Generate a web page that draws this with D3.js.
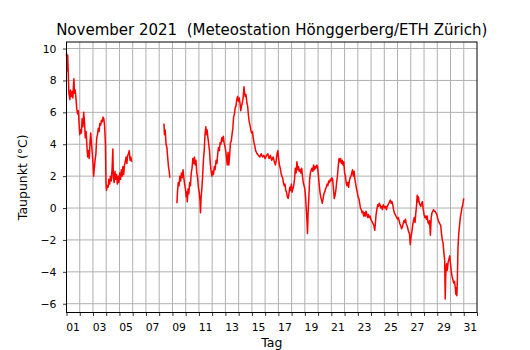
<!DOCTYPE html>
<html lang="en">
<head>
<meta charset="utf-8">
<title>Taupunkt November 2021</title>
<script src="https://d3js.org/d3.v7.min.js"></script>
<style>
body { margin: 0; background: #fff; }
text { font-family: "DejaVu Sans", sans-serif; fill: #000; }
.grid line { stroke: #b0b0b0; stroke-width: 1; }
.tick-label { font-size: 10.8px; }
</style>
</head>
<body>
<div id="chart"></div>
<script>
// time in days since 1 Nov 2021 00:00, null = no data
var tage = [
  0.00,0.03,0.06,0.09,0.12,0.18,0.25,0.30,0.36,0.42,0.48,0.52,0.56,0.60,0.66,0.72,0.78,0.84,0.90,0.95,
  1.00,1.06,1.12,1.18,1.24,1.30,1.36,1.42,1.48,1.54,1.60,1.66,1.72,1.78,1.83,1.88,1.94,
  2.00,2.05,2.10,2.16,2.22,2.28,2.34,2.40,2.46,2.52,2.58,2.64,2.70,2.76,2.82,2.88,2.94,2.98,
  3.02,3.08,3.14,3.20,3.26,3.32,3.38,3.44,3.50,3.54,3.60,3.66,3.72,3.78,3.84,3.90,3.96,
  4.02,4.08,4.14,4.20,4.26,4.32,4.38,4.44,4.50,4.56,4.62,4.68,4.74,4.80,4.86,4.92,
  5.00,
  7.36,7.40,7.45,7.52,7.58,7.64,7.70,7.76,7.80,
  8.00,
  8.34,8.38,8.44,8.50,8.56,8.62,8.68,8.74,8.80,8.86,8.92,8.98,
  9.04,9.08,9.12,9.18,9.24,9.30,9.36,9.42,9.48,9.54,9.60,9.66,9.72,9.78,9.84,9.90,9.96,
  10.02,10.08,10.12,10.16,10.22,10.28,10.34,10.40,10.46,10.52,10.56,10.62,10.68,10.74,10.80,10.86,10.92,10.98,
  11.04,11.10,11.16,11.22,11.30,11.36,11.42,11.48,11.54,11.60,11.66,11.72,11.78,11.84,11.90,11.96,
  12.02,12.08,12.14,12.20,12.26,12.32,12.38,12.44,12.50,12.56,12.62,12.68,12.74,12.80,12.86,12.92,12.98,
  13.04,13.10,13.16,13.22,13.28,13.34,13.40,13.44,13.50,13.56,13.62,13.68,13.74,13.80,13.86,13.92,13.98,
  14.04,14.10,14.16,14.22,14.28,14.34,14.40,14.50,14.60,14.70,14.80,14.90,
  15.00,15.10,15.20,15.30,15.40,15.50,15.60,15.70,15.78,15.84,15.90,15.96,
  16.02,16.08,16.14,16.20,16.26,16.32,16.38,16.44,16.50,16.56,16.62,16.68,16.74,16.80,16.86,16.92,16.98,
  17.04,17.10,17.16,17.22,17.28,17.34,17.40,17.46,17.52,17.58,17.64,17.70,17.76,17.82,17.88,17.94,
  18.00,18.06,18.12,18.16,18.20,18.24,18.30,18.36,18.42,18.48,18.54,18.60,18.66,18.72,18.78,18.84,18.90,18.96,
  19.02,19.08,19.14,19.20,19.26,19.32,19.38,19.44,19.50,19.56,19.62,19.68,19.74,19.80,19.86,19.92,19.98,
  20.04,20.10,20.16,20.22,20.28,20.34,20.40,20.46,20.52,20.58,20.64,20.70,20.76,20.82,20.88,20.94,
  21.00,21.06,21.12,21.18,21.24,21.30,21.36,21.42,21.48,21.54,21.60,21.66,21.72,21.78,21.84,21.90,21.96,
  22.02,22.08,22.14,22.20,22.26,22.32,22.38,22.44,22.50,22.56,22.62,22.68,22.74,22.80,22.86,22.92,22.98,
  23.04,23.10,23.16,23.22,23.28,23.32,23.38,23.44,23.50,23.56,23.62,23.68,23.74,23.80,23.86,23.92,23.98,
  24.04,24.10,24.16,24.22,24.28,24.34,24.40,24.46,24.52,24.58,24.64,24.70,24.76,24.82,24.88,24.94,
  25.00,25.06,25.12,25.18,25.24,25.30,25.36,25.42,25.48,25.54,25.60,25.66,25.72,25.78,25.84,25.90,25.96,
  26.02,26.08,26.14,26.20,26.26,26.32,26.38,26.44,26.48,26.52,26.58,26.64,26.70,26.76,26.82,26.88,26.94,
  27.00,27.06,27.12,27.18,27.24,27.30,27.36,27.42,27.48,27.54,27.60,27.66,27.72,27.78,27.84,27.90,27.96,
  28.02,28.08,28.14,28.20,28.26,28.32,28.38,28.44,28.50,28.56,28.60,28.64,28.70,28.76,28.82,28.88,28.94,
  29.00,29.06,29.12,29.18,29.24,29.30,29.36,29.40,29.44,29.48,29.52,29.56,29.62,29.68,29.74,29.80,29.86,29.92,29.98,
  30.00
];
var taupunkt = [
  9.7,9.2,8.6,9.6,8.8,7.2,6.8,7.4,7.0,7.3,6.9,7.6,8.1,7.2,7.4,6.8,6.2,5.9,6.1,5.3,
  4.6,4.9,4.7,5.6,5.1,6.0,5.4,4.4,4.8,3.9,3.2,3.6,3.1,4.2,4.7,4.1,3.5,
  2.8,2.0,2.5,3.0,3.4,4.4,4.6,5.0,4.8,5.3,5.2,5.5,5.4,5.7,5.6,5.1,4.0,1.6,
  1.1,1.4,1.3,1.8,1.5,2.0,1.7,2.4,3.7,1.9,1.6,2.3,1.8,2.1,1.5,2.0,1.6,
  2.2,1.8,2.4,2.0,2.6,2.1,2.7,2.9,3.2,2.8,3.3,3.4,3.6,3.0,3.2,2.9,
  null,
  5.3,4.6,4.9,4.0,3.8,3.2,2.6,2.3,1.9,
  null,
  0.3,1.0,1.6,1.4,2.0,1.7,2.2,1.9,2.4,1.9,1.5,1.2,
  0.7,1.0,0.4,1.2,0.9,1.6,1.4,2.2,2.5,3.1,2.8,3.2,2.7,3.0,2.2,1.9,1.3,
  1.0,0.5,-0.3,0.6,1.2,2.0,3.0,3.6,4.6,5.1,4.6,4.9,4.4,4.0,3.6,2.8,2.3,2.0,
  2.3,2.1,2.6,2.4,3.0,2.8,3.4,3.8,3.6,4.1,4.0,4.4,4.2,4.5,4.1,3.9,
  3.6,3.2,2.7,3.5,2.7,3.3,4.1,4.2,4.6,5.0,5.7,5.9,6.3,6.4,6.8,7.0,6.7,
  6.9,6.6,6.1,6.4,6.6,6.9,7.6,7.3,7.0,7.1,6.6,6.4,5.8,5.4,5.2,4.9,4.7,
  4.8,4.4,4.1,3.9,3.6,3.5,3.4,3.3,3.2,3.4,3.2,3.3,
  3.1,3.3,3.4,3.1,3.3,3.0,3.2,2.9,2.7,3.0,3.4,3.6,
  3.1,2.7,2.5,2.2,2.0,1.9,1.6,1.4,1.5,1.1,1.0,0.7,0.6,0.9,1.3,1.1,1.5,
  1.0,1.2,1.4,1.8,2.5,2.2,2.9,2.4,2.6,2.3,2.4,2.2,2.5,2.0,1.6,1.4,
  1.2,0.6,-0.2,-0.8,-1.6,-0.4,0.6,1.8,2.2,2.4,2.5,2.3,2.7,2.4,2.6,2.5,2.7,2.6,
  2.1,1.5,1.0,0.7,0.5,0.3,0.6,0.9,1.0,1.2,1.3,1.5,1.4,1.7,1.6,1.8,1.7,
  1.9,1.8,1.2,0.6,0.8,1.1,1.6,2.0,2.6,3.1,2.9,3.1,2.8,3.0,2.7,2.9,
  2.2,2.0,1.6,1.4,1.6,1.3,1.7,1.9,2.0,2.2,2.4,2.0,2.3,1.8,1.5,1.2,1.0,
  0.7,0.6,0.3,0.0,-0.1,-0.3,-0.2,-0.5,-0.3,-0.5,-0.2,-0.4,-0.6,-0.4,-0.6,-0.5,-0.7,
  -0.8,-0.9,-1.0,-1.1,-1.4,-1.0,-0.4,-0.1,0.2,0.1,0.3,0.2,0.0,0.1,-0.1,0.2,0.1,
  0.0,0.1,-0.1,0.1,0.2,0.3,0.4,0.5,0.3,0.4,0.2,-0.1,-0.3,-0.4,-0.5,-0.6,
  -0.7,-0.6,-0.8,-1.0,-1.1,-1.3,-1.2,-1.0,-0.8,-0.9,-0.7,-1.0,-1.1,-1.3,-1.5,-1.6,-2.3,
  -1.8,-1.5,-1.1,-0.8,-0.6,-0.9,-0.3,0.2,0.8,0.4,0.7,0.3,0.2,0.1,0.3,0.4,-0.1,
  -0.4,-0.6,-0.5,-0.7,-0.5,-0.9,-1.0,-0.8,-1.7,-0.6,-0.3,-0.2,-0.1,-0.2,-0.2,-0.3,-0.4,
  -0.6,-0.8,-0.9,-1.0,-1.1,-1.6,-2.0,-2.2,-2.8,-3.3,-5.7,-4.2,-3.5,-3.9,-3.4,-3.2,-3.0,
  -3.5,-4.0,-4.3,-4.5,-4.7,-4.6,-5.0,-5.4,-5.0,-5.5,-4.4,-2.6,-1.6,-1.1,-0.6,-0.3,0.0,0.2,0.5,
  0.6
];
var tageLabels = ["01","03","05","07","09","11","13","15","17","19","21","23","25","27","29","31"];
var yTicks = [-6, -4, -2, 0, 2, 4, 6, 8, 10];

var w = 530, h = 350;
var margin = {left: 66.5, right: 53, top: 42, bottom: 37.5};

var svg = d3.select("#chart").append("svg")
    .attr("width", w).attr("height", h);

var x = d3.scaleLinear().domain([0, 31]).range([margin.left, w - margin.right]);
var y = d3.scaleLinear().domain([-6.55, 10.41]).range([h - margin.bottom, margin.top]);

var data = tage.map(function(t, i) { return {t: t, v: taupunkt[i]}; });

// grid
var grid = svg.append("g").attr("class", "grid");
grid.selectAll("line.v").data(d3.range(1, 31)).enter().append("line")
    .attr("x1", function(d) { return x(d); }).attr("x2", function(d) { return x(d); })
    .attr("y1", y.range()[0]).attr("y2", y.range()[1]);
grid.selectAll("line.h").data(yTicks).enter().append("line")
    .attr("x1", x.range()[0]).attr("x2", x.range()[1])
    .attr("y1", function(d) { return y(d); }).attr("y2", function(d) { return y(d); });

// data line
var line = d3.line()
    .defined(function(d) { return d.v !== null; })
    .x(function(d) { return x(d.t); })
    .y(function(d) { return y(d.v); });

svg.append("path").datum(data)
    .attr("fill", "none")
    .attr("stroke", "#ff0000")
    .attr("stroke-width", 1.5)
    .attr("stroke-linejoin", "round")
    .attr("d", line);

// axes
var xAxis = svg.append("g")
    .attr("transform", "translate(0," + (h - margin.bottom) + ")")
    .call(d3.axisBottom(x).tickValues(d3.range(0, 32)).tickSize(3.5).tickFormat(""));
var yAxis = svg.append("g")
    .attr("transform", "translate(" + margin.left + ",0)")
    .call(d3.axisLeft(y).tickValues(yTicks).tickSize(3.5)
        .tickFormat(function(d) { return d < 0 ? "\u2212" + Math.abs(d) : d; }));
[xAxis, yAxis].forEach(function(a) {
    a.select(".domain").remove();
    a.selectAll("line").attr("stroke", "#000").attr("stroke-width", 0.8);
});
yAxis.selectAll("text").attr("class", "tick-label").attr("x", -10)
    .style("font-family", "DejaVu Sans").style("font-size", "10.8px");

// day labels in the middle of each odd day
svg.append("g").selectAll("text").data(tageLabels).enter().append("text")
    .attr("class", "tick-label")
    .attr("x", function(d) { return x(+d - 0.5); })
    .attr("y", h - margin.bottom + 18.5)
    .attr("text-anchor", "middle")
    .text(function(d) { return d; });

// frame
svg.append("rect")
    .attr("x", margin.left).attr("y", margin.top)
    .attr("width", x.range()[1] - margin.left).attr("height", y.range()[0] - margin.top)
    .attr("fill", "none").attr("stroke", "#000").attr("stroke-width", 1);

// titles
svg.append("text")
    .attr("x", (x.range()[0] + x.range()[1]) / 2).attr("y", 35)
    .attr("text-anchor", "middle").style("font-size", "15px")
    .style("white-space", "pre")
    .text("November 2021  (Meteostation Hönggerberg/ETH Zürich)");
svg.append("text")
    .attr("x", (x.range()[0] + x.range()[1]) / 2).attr("y", 347)
    .attr("text-anchor", "middle").style("font-size", "12.5px")
    .text("Tag");
svg.append("text")
    .attr("transform", "translate(27," + ((y.range()[0] + y.range()[1]) / 2) + ") rotate(-90)")
    .attr("text-anchor", "middle").style("font-size", "12.5px")
    .text("Taupunkt (°C)");
</script>
</body>
</html>
